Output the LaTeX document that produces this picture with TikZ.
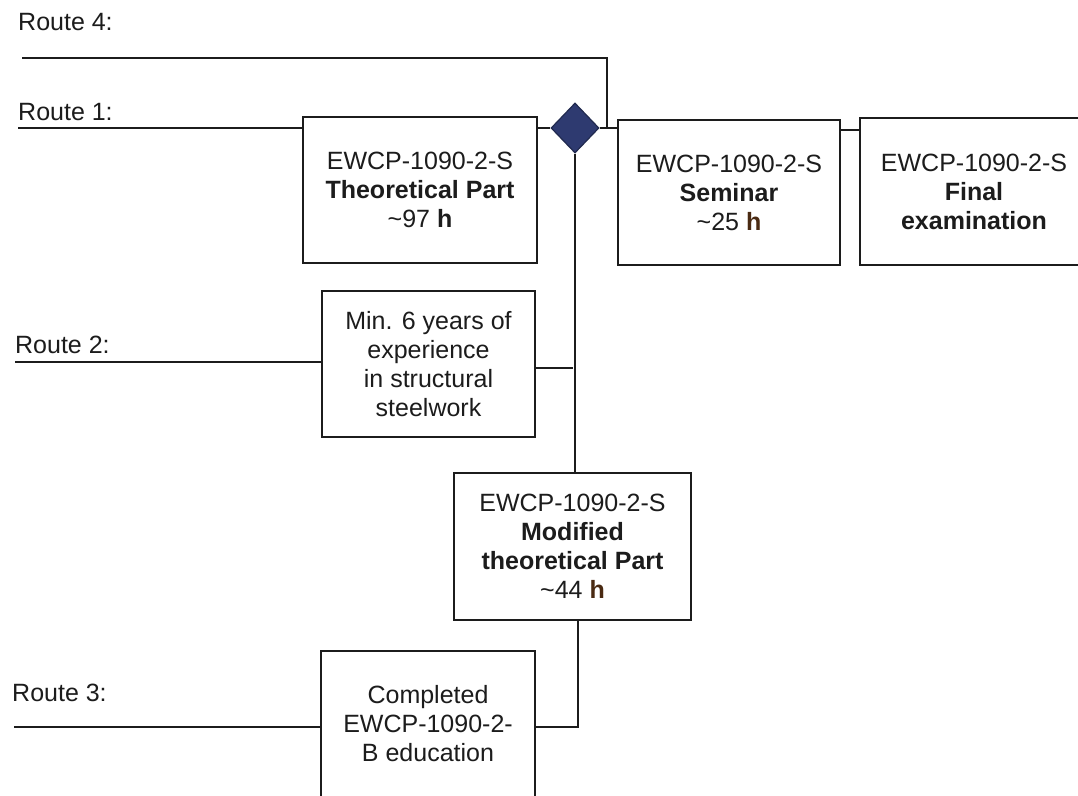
\documentclass[tikz,border=0pt]{standalone}
\usepackage{fontspec}
\setmainfont{Liberation Sans}
\usetikzlibrary{shapes.geometric}
\definecolor{ink}{HTML}{1C1C1C}
\definecolor{hbrown}{HTML}{4A2A12}
\definecolor{navy}{HTML}{2E3A70}
\tikzset{
  box/.style={draw=ink, line width=1.8pt, rectangle, align=center, text=ink,
    font=\fontsize{25}{29}\selectfont, inner sep=0pt},
  conn/.style={draw=ink, line width=1.6pt},
  routelbl/.style={anchor=west, text=ink, font=\fontsize{25}{29}\selectfont, inner sep=0pt},
}
\newcommand{\hb}{\textcolor{hbrown}{\textbf{h}}}
\begin{document}
\begin{tikzpicture}[x=1pt,y=-1pt]
\clip (0,0) rectangle (1078,795);
\fill[white] (0,0) rectangle (1078,795);
% boxes
\node[box, minimum width=234pt, minimum height=146pt] (b1) at (420,190)
  {EWCP-1090-2-S\\\textbf{Theoretical Part}\\\textasciitilde97 \textbf{h}};
\node[box, minimum width=222pt, minimum height=145pt] (sem) at (729,192.5)
  {EWCP-1090-2-S\\\textbf{Seminar}\\\textasciitilde25 \hb};
\node[box, minimum width=228pt, minimum height=147pt] (fin) at (974,191.5)
  {EWCP-1090-2-S\\\textbf{Final}\\\textbf{examination}};
\node[box, minimum width=213pt, minimum height=146pt] (exp) at (428.5,364)
  {Min. 6 years of\\experience\\in structural\\steelwork};
\node[box, minimum width=237pt, minimum height=147pt] (mod) at (572.5,546.5)
  {EWCP-1090-2-S\\\textbf{Modified}\\\textbf{theoretical Part}\\\textasciitilde44 \hb};
\node[box, minimum width=214pt, minimum height=146pt] (comp) at (428,724)
  {Completed\\EWCP-1090-2-\\B education};
% diamond
\node[diamond, draw=navy!70!black, fill=navy, line width=1.2pt, minimum width=48pt, minimum height=50pt, inner sep=0pt] (d) at (575,128) {};
% route labels
\node[routelbl] (l4) at (18,22) {Route 4:};
\node[routelbl] (l1) at (18,112) {Route 1:};
\node[routelbl] (l2) at (15,345) {Route 2:};
\node[routelbl] (l3) at (12,693) {Route 3:};
% coordinates
\coordinate (r4) at (22,58);
\coordinate (r1) at (18,128);
\coordinate (r2) at (15,362);
\coordinate (r3) at (14,727);
\coordinate (j4) at (607,128);
\coordinate (jexp) at (573,368);
\coordinate (fy) at (0,130);
\coordinate (cy) at (578,727);
% connectors
\draw[conn] (r4) -- (r4 -| j4) -- (j4);
\draw[conn] (r1) -- (r1 -| b1.west);
\draw[conn] (b1.east |- d.west) -- (d.west);
\draw[conn] (d.east) -- (d.east -| sem.west);
\draw[conn] (sem.east |- fy) -- (fin.west |- fy);
\draw[conn] (d.south) -- (d.south |- mod.north);
\draw[conn] (r2) -- (r2 -| exp.west);
\draw[conn] (exp.east |- jexp) -- (jexp);
\draw[conn] (cy |- mod.south) -- (cy) -- (cy -| comp.east);
\draw[conn] (r3) -- (r3 -| comp.west);
\end{tikzpicture}
\end{document}
